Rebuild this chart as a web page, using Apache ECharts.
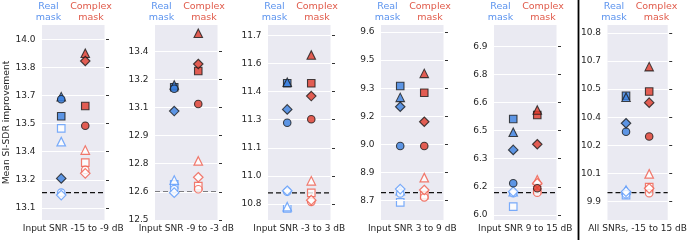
<!DOCTYPE html>
<html>
<head>
<meta charset="utf-8">
<script src="https://cdn.jsdelivr.net/npm/echarts@6/dist/echarts.min.js"></script>
<style>html,body{margin:0;padding:0;background:#fff}#c{width:690px;height:243px}</style>
</head>
<body>
<div id="c"></div>
<script>
// ---- data ----
// marker order: filled circle, filled square, filled triangle, filled diamond,
//               hollow circle, hollow square, hollow triangle, hollow diamond
const panelTitles = ['Input SNR -15 to -9 dB', 'Input SNR -9 to -3 dB', 'Input SNR -3 to 3 dB',
                     'Input SNR 3 to 9 dB', 'Input SNR 9 to 15 dB', 'All SNRs, -15 to 15 dB'];
const columnNames = ['Real\nmask', 'Complex\nmask'];
const yAxisTitle = 'Mean SI-SDR improvement';

const real1 = [13.68, 13.589, 13.694, 13.258, 13.182, 13.525, 13.454, 13.169];
const cplx1 = [13.539, 13.644, 13.925, 13.884, 13.303, 13.342, 13.409, 13.285];
const real2 = [13.2, 13.208, 13.22, 13.081, 12.665, 12.69, 12.713, 12.646];
const cplx2 = [13.119, 13.295, 13.496, 13.332, 12.664, 12.681, 12.815, 12.728];
const real3 = [11.234, 11.444, 11.45, 11.305, 10.866, 10.777, 10.786, 10.871];
const cplx3 = [11.252, 11.444, 11.595, 11.376, 10.812, 10.86, 10.924, 10.821];
const real4 = [8.992, 9.312, 9.251, 9.201, 8.739, 8.691, 8.753, 8.762];
const cplx4 = [8.992, 9.276, 9.379, 9.121, 8.718, 8.73, 8.823, 8.757];
const real5 = [6.169, 6.512, 6.441, 6.347, 6.116, 6.044, 6.124, 6.124];
const cplx5 = [6.142, 6.533, 6.56, 6.377, 6.119, 6.133, 6.187, 6.169];
const real6 = [10.273, 10.465, 10.457, 10.318, 9.94, 9.935, 9.962, 9.953];
const cplx6 = [10.247, 10.487, 10.62, 10.428, 9.945, 9.977, 10.048, 9.971];
const baselines = [13.182, 12.648, 10.86, 8.743, 6.119, 9.948];

const tickValues1 = [13.1, 13.25, 13.4, 13.55, 13.7, 13.85, 14.0];
const tickLabels1 = ['13.1', '13.2', '13.4', '13.5', '13.7', '13.8', '14.0'];
const tickValues2 = [12.5, 12.65, 12.8, 12.95, 13.1, 13.25, 13.4];
const tickLabels2 = ['12.5', '12.6', '12.8', '12.9', '13.1', '13.2', '13.4'];
const tickValues3 = [10.8, 10.95, 11.1, 11.25, 11.4, 11.55, 11.7];
const tickLabels3 = ['10.8', '11.0', '11.1', '11.3', '11.4', '11.6', '11.7'];
const tickValues4 = [8.7, 8.85, 9.0, 9.15, 9.3, 9.45, 9.6];
const tickLabels4 = ['8.7', '8.9', '9.0', '9.2', '9.3', '9.5', '9.6'];
const tickValues5 = [6.0, 6.15, 6.3, 6.45, 6.6, 6.75, 6.9];
const tickLabels5 = ['6.0', '6.2', '6.3', '6.5', '6.6', '6.8', '6.9'];
const tickValues6 = [9.9, 10.05, 10.2, 10.35, 10.5, 10.65, 10.8];
const tickLabels6 = ['9.9', '10.1', '10.2', '10.4', '10.5', '10.7', '10.8'];

// ---- layout / style ----
const reals = [real1, real2, real3, real4, real5, real6];
const cplxs = [cplx1, cplx2, cplx3, cplx4, cplx5, cplx6];
const tickVals = [tickValues1, tickValues2, tickValues3, tickValues4, tickValues5, tickValues6];
const tickLabs = [tickLabels1, tickLabels2, tickLabels3, tickLabels4, tickLabels5, tickLabels6];
const yMin = [13.036, 12.5, 10.715, 8.597, 5.973, 9.802];
const SPAN = 1.04;
const gridLeft = [42, 155, 268, 381, 494, 607.5];
const GW = 62.5, GTOP = 25, GH = 195;
const FONT = 'DejaVu Sans';
const TXT = '#262626';

const markerDefs = [
  {sym: 'circle', size: 7.5, filled: true},
  {sym: 'rect', size: 7.5, filled: true},
  {sym: 'triangle', size: 8.5, filled: true},
  {sym: 'diamond', size: 9.5, filled: true},
  {sym: 'circle', size: 7.5, filled: false},
  {sym: 'rect', size: 7.5, filled: false},
  {sym: 'triangle', size: 8.5, filled: false},
  {sym: 'diamond', size: 9.5, filled: false}
];
const drawOrder = [5, 6, 4, 7, 1, 2, 0, 3];
const colFill = ['#3a7fe0', '#e0392b'];
const colHollow = ['#5a99fa', '#f05a4a'];
const headColor = ['#5b93ee', '#e05a4a'];

const grids = [], xAxes = [], yAxes = [], series = [], graphics = [];
for (let p = 0; p < 6; p++) {
  grids.push({left: gridLeft[p], top: GTOP, width: GW, height: GH, show: true,
    backgroundColor: '#eaeaf2', borderWidth: 0});
  xAxes.push({type: 'value', gridIndex: p, min: -0.8, max: 1.8,
    axisLine: {show: false}, axisTick: {show: false}, axisLabel: {show: false}, splitLine: {show: false},
    name: panelTitles[p], nameLocation: 'middle', nameGap: 4,
    nameTextStyle: {fontFamily: FONT, fontSize: 9, color: TXT, verticalAlign: 'top'}});
  const tv = tickVals[p], tl = tickLabs[p];
  const fmt = v => { for (let i = 0; i < tv.length; i++) if (Math.abs(tv[i] - v) < 1e-6) return tl[i]; return ''; };
  yAxes.push({type: 'value', gridIndex: p, position: 'left', offset: 1.5,
    min: yMin[p], max: yMin[p] + SPAN,
    axisLine: {show: false},
    axisTick: {show: true, length: 3, customValues: tv, lineStyle: {color: '#333', width: 1}},
    axisLabel: {show: true, customValues: tv, formatter: fmt, margin: 5,
      fontFamily: FONT, fontSize: 9, color: TXT},
    splitLine: {show: false},
    name: p === 0 ? yAxisTitle : '', nameLocation: 'middle', nameGap: 27,
    nameTextStyle: {fontFamily: FONT, fontSize: 9.2, color: TXT}});
  yAxes.push({type: 'value', gridIndex: p, position: 'right', offset: 1.5,
    min: yMin[p], max: yMin[p] + SPAN,
    axisLine: {show: false},
    axisTick: {show: true, length: 3, customValues: tv, lineStyle: {color: '#333', width: 1}},
    axisLabel: {show: false}, splitLine: {show: false}});
  // grid lines
  series.push({type: 'line', xAxisIndex: p, yAxisIndex: 2 * p, data: [], silent: true,
    markLine: {silent: true, symbol: 'none', label: {show: false},
      lineStyle: {color: '#ffffff', type: 'solid', width: 1.2},
      data: tv.map(v => ({yAxis: v}))}});
  // baseline dashed
  series.push({type: 'line', xAxisIndex: p, yAxisIndex: 2 * p, symbol: 'none', silent: true, z: 3,
    lineStyle: {color: '#111', width: 1.3, type: [5, 3]},
    data: [[-0.8, baselines[p]], [1.8, baselines[p]]]});
  drawOrder.forEach((m, k) => {
    const d = markerDefs[m];
    const pts = [reals[p][m], cplxs[p][m]].map((v, c) => ({
      value: [c, v],
      itemStyle: d.filled
        ? {color: colFill[c], borderColor: '#1a1a1a', borderWidth: 1.1}
        : {color: '#ffffff', borderColor: colHollow[c], borderWidth: 1.2}
    }));
    series.push({type: 'scatter', xAxisIndex: p, yAxisIndex: 2 * p, symbol: d.sym,
      symbolSize: d.size, z: 4 + k, data: pts, silent: true});
  });
  graphics.push({type: 'text', x: gridLeft[p] + 6.5, y: 1,
    style: {text: columnNames[0], fill: headColor[0], font: '9.5px "DejaVu Sans"',
      textAlign: 'center', textVerticalAlign: 'top', lineHeight: 11}});
  graphics.push({type: 'text', x: gridLeft[p] + 49, y: 1,
    style: {text: columnNames[1], fill: headColor[1], font: '9.5px "DejaVu Sans"',
      textAlign: 'center', textVerticalAlign: 'top', lineHeight: 11}});
}
graphics.push({type: 'line', shape: {x1: 578.5, y1: 0, x2: 578.5, y2: 240}, style: {stroke: '#000', lineWidth: 1.8}});

const chart = echarts.init(document.getElementById('c'), null, {renderer: 'canvas'});
chart.setOption({
  animation: false,
  backgroundColor: '#ffffff',
  grid: grids, xAxis: xAxes, yAxis: yAxes, series: series, graphic: graphics
});
</script>
</body>
</html>
